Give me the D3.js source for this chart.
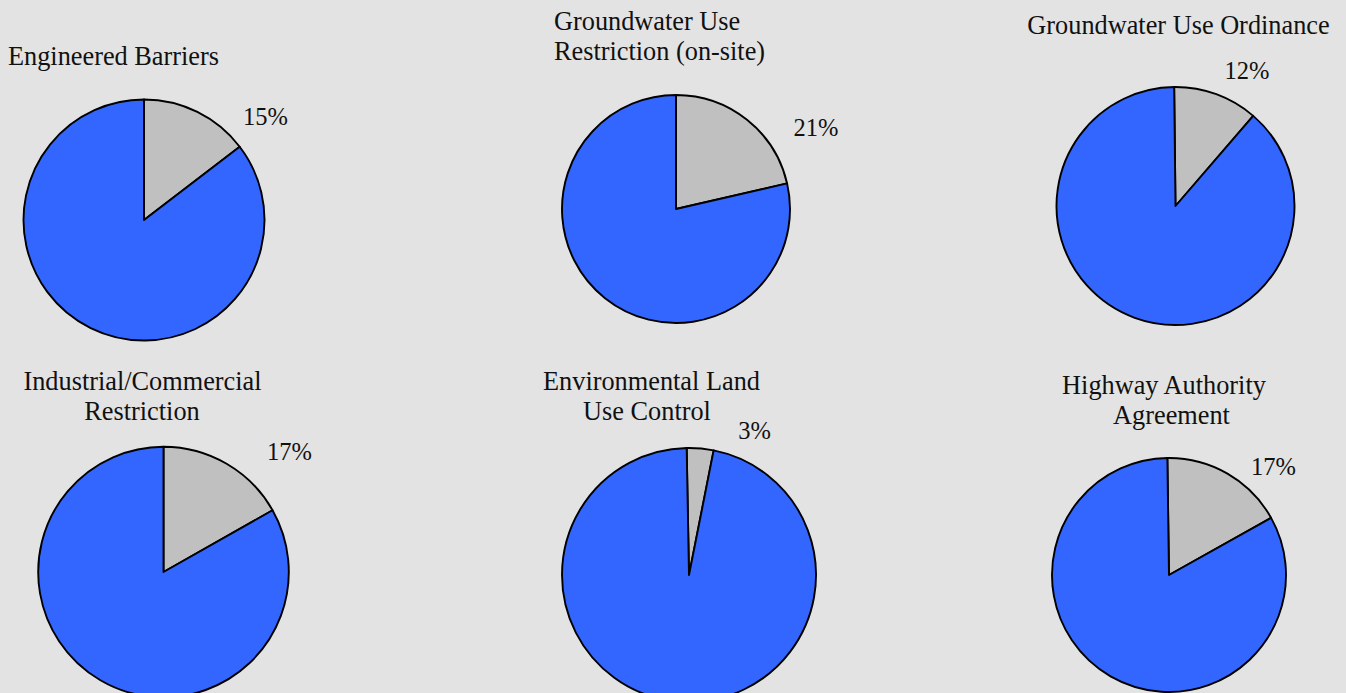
<!DOCTYPE html>
<html>
<head>
<meta charset="utf-8">
<script src="https://cdn.jsdelivr.net/npm/d3@7/dist/d3.min.js"></script>
<style>
  html, body { margin: 0; padding: 0; background: #e3e3e3; }
  svg { display: block; }
  text { font-family: "Liberation Serif", "Times New Roman", serif; fill: #111; }
</style>
</head>
<body>
<svg id="chart" width="1346" height="693"></svg>
<script>
// ---- data ----
const categories = [
  "Engineered Barriers",
  "Groundwater Use Restriction (on-site)",
  "Groundwater Use Ordinance",
  "Industrial/Commercial Restriction",
  "Environmental Land Use Control",
  "Highway Authority Agreement"
];
const titleLines = [
  ["Engineered Barriers"],
  ["Groundwater Use", "Restriction (on-site)"],
  ["Groundwater Use Ordinance"],
  ["Industrial/Commercial", "Restriction"],
  ["Environmental Land", "Use Control"],
  ["Highway Authority", "Agreement"]
];
// share of each pie in the grey slice
const sliceShare = [14.6, 21.4, 11.5, 16.8, 3.4, 17.1];
const percentLabels = ["15%", "21%", "12%", "17%", "3%", "17%"];

// ---- layout ----
const layout = [
  { cx: 144,  cy: 220, r: 120.5, start: 0,     tx: [113.5],        ty: 65,   anchor: "middle", lx: 265.5, ly: 125 },
  { cx: 676,  cy: 209, r: 114,   start: 0,     tx: [554, 554],     ty: 29.5, anchor: "start",  lx: 816,   ly: 136 },
  { cx: 1175.5, cy: 206, r: 119, start: -0.64, tx: [1178.5],       ty: 33.5, anchor: "middle", lx: 1247,  ly: 79 },
  { cx: 163.5, cy: 572, r: 125.3, start: 0,    tx: [142.5, 142],   ty: 389.5, anchor: "middle", lx: 289.5, ly: 460 },
  { cx: 689,  cy: 575, r: 127,   start: -1.05, tx: [651.5, 647],   ty: 389.5, anchor: "middle", lx: 754.5, ly: 439 },
  { cx: 1169, cy: 575, r: 117,   start: -0.8,  tx: [1164, 1171.5], ty: 393.5, anchor: "middle", lx: 1273.5, ly: 475 }
];
const colors = ["#c0c0c0", "#3366ff"];

const svg = d3.select("#chart");
svg.append("rect").attr("width", 1346).attr("height", 693).attr("fill", "#e3e3e3");

categories.forEach((cat, i) => {
  const L = layout[i];
  const s = L.start * Math.PI / 180;
  const pie = d3.pie().sort(null).startAngle(s).endAngle(s + 2 * Math.PI);
  const arcs = pie([sliceShare[i], 100 - sliceShare[i]]);
  const arc = d3.arc().innerRadius(0).outerRadius(L.r);
  const g = svg.append("g").attr("transform", `translate(${L.cx},${L.cy})`);
  g.selectAll("path").data(arcs).join("path")
    .attr("d", arc)
    .attr("fill", (d, j) => colors[j])
    .attr("stroke", "#000")
    .attr("stroke-width", 1.9)
    .attr("stroke-linejoin", "round");

  const t = svg.append("text")
    .attr("y", L.ty)
    .attr("text-anchor", L.anchor)
    .style("font-size", "26.3px");
  titleLines[i].forEach((line, k) => {
    t.append("tspan").attr("x", L.tx[k]).attr("dy", k === 0 ? 0 : 30).text(line);
  });

  svg.append("text")
    .attr("x", L.lx).attr("y", L.ly)
    .attr("text-anchor", "middle")
    .style("font-size", "24.5px")
    .text(percentLabels[i]);
});
</script>
</body>
</html>
